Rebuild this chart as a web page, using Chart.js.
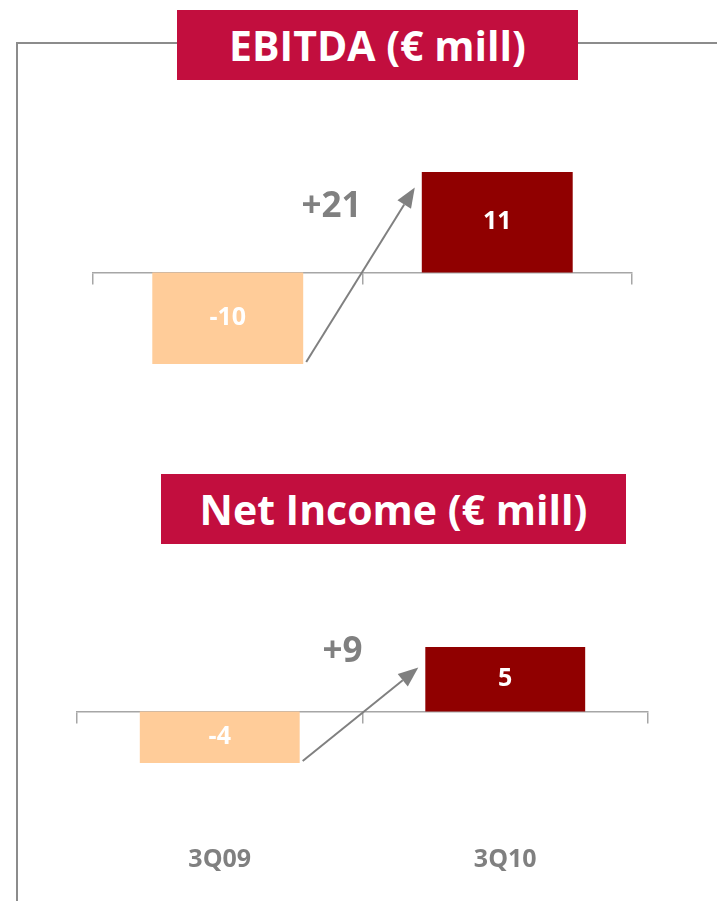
<!DOCTYPE html>
<html>
<head>
<meta charset="utf-8">
<script src="https://cdn.jsdelivr.net/npm/chart.js@4.4.1/dist/chart.umd.min.js"></script>
<style>
  html, body { margin: 0; padding: 0; background: #fff; overflow: hidden; }
  body { width: 717px; height: 901px; position: relative; }
  .frame-left { position: absolute; left: 16px; top: 42px; width: 2px; height: 870px; background: #8c8c8c; }
  .frame-top { position: absolute; top: 42px; height: 2px; background: #8c8c8c; }
  .title {
    position: absolute; background: #c20e3e; color: #fff;
    font-family: "Open Sans", sans-serif; font-weight: 700; font-size: 41px;
    display: flex; align-items: center; justify-content: center;
  }
  canvas { position: absolute; left: 0; }
</style>
</head>
<body>
<div class="frame-left"></div>
<div class="frame-top" style="left:16px; width:162px;"></div>
<div class="frame-top" style="left:578px; width:139px;"></div>
<div class="title" style="left:177px; top:10px; width:401px; height:70px;">EBITDA (€ mill)</div>
<div class="title" style="left:161px; top:474px; width:465px; height:70px;">Net Income (€ mill)</div>

<div style="position:absolute; left:0; top:100px; width:717px; height:300px;"><canvas id="ebitdaChart"></canvas></div>
<div style="position:absolute; left:0; top:600px; width:717px; height:301px;"><canvas id="netChart"></canvas></div>

<script>
// Data
const periods = ['3Q09', '3Q10'];
const ebitdaValues = [-10, 11];
const ebitdaChange = '+21';
const netIncomeValues = [-4, 5];
const netIncomeChange = '+9';

const barColors = ['#ffcc99', '#900000'];
const grey = '#808080';

// draws value labels, the change label and the arrow between bars
const changeArrow = {
  id: 'changeArrow',
  afterDatasetsDraw(chart, args, opts) {
    const ctx = chart.ctx;
    const bars = chart.getDatasetMeta(0).data;
    const y = chart.scales.y;
    const values = chart.data.datasets[0].data;

    // value labels inside the bars
    ctx.save();
    ctx.fillStyle = '#fff';
    ctx.font = 'bold 25px "Open Sans", sans-serif';
    ctx.textAlign = 'center';
    ctx.textBaseline = 'middle';
    bars.forEach((b, i) => {
      ctx.fillText(String(values[i]), b.x, (b.y + b.base) / 2);
    });

    // arrow
    const b1 = bars[0], b2 = bars[1];
    const x0 = b1.x + b1.width / 2 + 3;
    const y0 = y.getPixelForValue(values[0]) - 2;
    const x1 = b2.x - b2.width / 2 - 7;
    const y1 = y.getPixelForValue(opts.tipValue);
    const ang = Math.atan2(y1 - y0, x1 - x0);
    const head = 20, half = 8;
    const bx = x1 - head * Math.cos(ang), by = y1 - head * Math.sin(ang);
    ctx.strokeStyle = grey;
    ctx.fillStyle = grey;
    ctx.lineWidth = 2;
    ctx.beginPath();
    ctx.moveTo(x0, y0);
    ctx.lineTo(bx, by);
    ctx.stroke();
    ctx.beginPath();
    ctx.moveTo(x1, y1);
    ctx.lineTo(bx + half * Math.sin(ang), by - half * Math.cos(ang));
    ctx.lineTo(bx - half * Math.sin(ang), by + half * Math.cos(ang));
    ctx.closePath();
    ctx.fill();

    // change label
    const mid = ((b1.x + b1.width / 2) + (b2.x - b2.width / 2)) / 2;
    ctx.font = 'bold 35px "Open Sans", sans-serif';
    ctx.fillText(opts.text, mid + opts.dx, y.getPixelForValue(opts.textValue));
    ctx.restore();
  }
};

function makeChart(id, values, change, cfg) {
  return new Chart(document.getElementById(id), {
    type: 'bar',
    data: {
      labels: periods,
      datasets: [{
        data: values,
        backgroundColor: barColors,
        barPercentage: cfg.barPct,
        categoryPercentage: 1
      }]
    },
    options: {
      responsive: true,
      maintainAspectRatio: false,
      animation: false,
      layout: { padding: cfg.padding },
      plugins: {
        legend: { display: false },
        tooltip: { enabled: false },
        changeArrow: { text: change, tipValue: cfg.tipValue, textValue: cfg.textValue, dx: cfg.dx }
      },
      scales: {
        y: { display: false, min: cfg.min, max: cfg.max },
        x: {
          position: { y: 0 },
          offset: true,
          grid: { drawOnChartArea: false, drawTicks: true, tickLength: 11, color: '#a6a6a6', lineWidth: 1.5, offset: true },
          border: { color: '#a6a6a6', width: 1.5 },
          ticks: {
            display: cfg.showTicks,
            color: grey,
            padding: 122,
            font: { family: '"Open Sans", sans-serif', weight: 'bold', size: 25 }
          }
        }
      }
    },
    plugins: [changeArrow]
  });
}

makeChart('ebitdaChart', ebitdaValues, ebitdaChange, {
  barPct: 0.56, min: -10, max: 11, showTicks: false,
  padding: { top: 72, left: 93, right: 85, bottom: 36 },
  tipValue: 9.3, textValue: 7.2, dx: -31
});

makeChart('netChart', netIncomeValues, netIncomeChange, {
  barPct: 0.56, min: -4, max: 5, showTicks: true,
  padding: { top: 47, left: 77, right: 69, bottom: 138 },
  tipValue: 3.4, textValue: 4.6, dx: -20
});
</script>
</body>
</html>
